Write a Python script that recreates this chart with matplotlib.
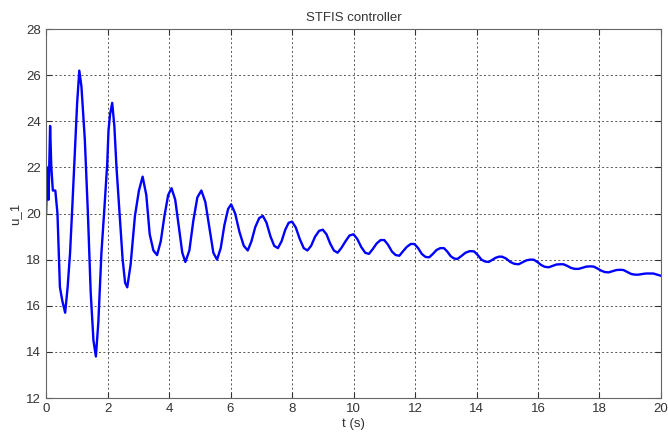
import matplotlib
matplotlib.use('Agg')
from matplotlib import pyplot as plt

# values
t = [0, 0.04, 0.08, 0.13, 0.17, 0.22, 0.3, 0.37, 0.45, 0.53, 0.62, 0.7, 0.78, 0.86, 0.94,
     1.01, 1.08, 1.15, 1.26, 1.36, 1.45, 1.54, 1.62, 1.7, 1.8, 1.9, 1.99, 2.03, 2.08, 2.15,
     2.22, 2.29, 2.39, 2.49, 2.57, 2.64, 2.75, 2.89, 3.02, 3.14, 3.26, 3.37, 3.49, 3.61,
     3.73, 3.85, 3.97, 4.08, 4.2, 4.32, 4.43, 4.53, 4.66, 4.79, 4.92, 5.05, 5.18, 5.31,
     5.44, 5.56, 5.68, 5.8, 5.92, 6.02, 6.15, 6.29, 6.43, 6.56, 6.68, 6.8, 6.93, 7.05,
     7.17, 7.3, 7.42, 7.54, 7.66, 7.78, 7.89, 8.0, 8.12, 8.25, 8.38, 8.5, 8.62, 8.75,
     8.88, 9.0, 9.12, 9.24, 9.36, 9.48, 9.6, 9.74, 9.87, 10.0, 10.12, 10.25, 10.38, 10.5,
     10.62, 10.75, 10.88, 11.0, 11.12, 11.25, 11.37, 11.49, 11.6, 11.73, 11.86, 11.98,
     12.1, 12.22, 12.34, 12.46, 12.58, 12.7, 12.82, 12.94, 13.05, 13.16, 13.27, 13.38,
     13.5, 13.64, 13.78, 13.92, 14.04, 14.16, 14.28, 14.4, 14.5, 14.62, 14.73, 14.83,
     14.96, 15.1, 15.23, 15.37, 15.49, 15.62, 15.74, 15.86, 15.98, 16.1, 16.22, 16.35,
     16.47, 16.6, 16.72, 16.83, 16.95, 17.08, 17.2, 17.32, 17.45, 17.58, 17.7, 17.81,
     17.93, 18.06, 18.18, 18.3, 18.42, 18.55, 18.67, 18.78, 18.9, 19.03, 19.15, 19.27,
     19.4, 19.52, 19.64, 19.75, 19.88, 20.0]
u1 = [20.0, 22.0, 20.6, 23.8, 22.0, 21.0, 21.0, 20.0, 16.8, 16.2, 15.7, 16.8, 18.3, 20.5, 22.8,
      24.8, 26.2, 25.5, 23.2, 20.0, 16.6, 14.5, 13.8, 15.3, 18.3, 20.3, 22.2, 23.6, 24.3, 24.8,
      23.8, 22.0, 20.0, 18.0, 17.0, 16.8, 17.8, 19.9, 21.0, 21.6, 20.8, 19.1, 18.4, 18.2,
      18.8, 19.9, 20.8, 21.1, 20.6, 19.4, 18.3, 17.9, 18.4, 19.7, 20.7, 21.0, 20.5, 19.4,
      18.3, 18.0, 18.5, 19.5, 20.2, 20.4, 20.0, 19.2, 18.6, 18.4, 18.8, 19.4, 19.8, 19.9,
      19.6, 19.0, 18.6, 18.5, 18.8, 19.3, 19.6, 19.65, 19.4, 18.9, 18.5, 18.4, 18.6, 19.0,
      19.25, 19.3, 19.1, 18.7, 18.4, 18.3, 18.5, 18.8, 19.05, 19.1, 18.9, 18.55, 18.3, 18.25,
      18.45, 18.7, 18.85, 18.85, 18.65, 18.35, 18.2, 18.17, 18.35, 18.55, 18.68, 18.68,
      18.5, 18.25, 18.12, 18.1, 18.25, 18.42, 18.5, 18.5, 18.35, 18.15, 18.05, 18.03,
      18.15, 18.3, 18.37, 18.36, 18.2, 18.0, 17.92, 17.9, 17.98, 18.08, 18.13, 18.13,
      18.05, 17.9, 17.82, 17.8, 17.88, 17.97, 18.0, 18.0, 17.9, 17.77, 17.69, 17.67,
      17.73, 17.79, 17.8, 17.8, 17.73, 17.64, 17.6, 17.6, 17.65, 17.7, 17.71, 17.7,
      17.62, 17.52, 17.46, 17.45, 17.5, 17.55, 17.56, 17.55, 17.47, 17.38, 17.35, 17.35,
      17.38, 17.4, 17.4, 17.4, 17.35, 17.3]

xticks = [0, 2, 4, 6, 8, 10, 12, 14, 16, 18, 20]
yticks = [12, 14, 16, 18, 20, 22, 24, 26, 28]

plt.rcParams['font.family'] = ['Liberation Sans', 'DejaVu Sans']
fig = plt.figure(figsize=(6.68, 4.41), dpi=100)
ax = fig.add_axes([0.069, 0.0975, 0.9205, 0.8365])
ax.plot(t, u1, color='#0000ff', linewidth=1.7)
ax.set_xlim(0, 20)
ax.set_ylim(12, 28)
ax.set_xticks(xticks)
ax.set_yticks(yticks)
ax.grid(True, linestyle=(0, (2, 2.5)), color='#555555', linewidth=0.7)
ax.tick_params(direction='in', top=True, right=True, labelsize=9.5, length=4, colors='#333333')
for s in ax.spines.values():
    s.set_color('#666666')
    s.set_linewidth(0.8)
ax.set_title('STFIS controller', fontsize=9.5, color='#333333', pad=6)
ax.set_xlabel('t (s)', fontsize=9.5, color='#333333', labelpad=2)
ax.set_ylabel('u_1', fontsize=9.5, color='#333333', labelpad=4)
fig.savefig('out.png', dpi=100)
